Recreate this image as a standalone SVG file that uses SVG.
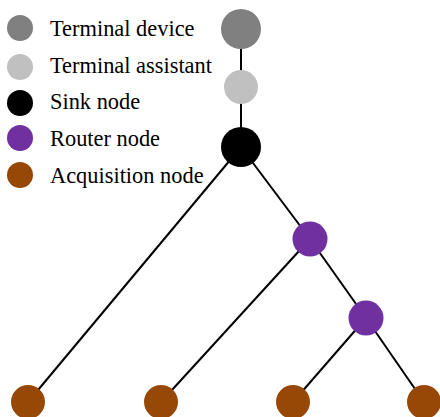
<svg xmlns="http://www.w3.org/2000/svg" width="440" height="417" viewBox="0 0 440 417">
  <style>
    .label { font-family: "Liberation Serif", "Times New Roman", serif; font-size: 22.4px; fill: #000; }
    .edge { stroke: #000; stroke-width: 2; fill: none; }
    .device { fill: #808080; }
    .assistant { fill: #c0c0c0; }
    .sink { fill: #000000; }
    .router { fill: #7030a0; }
    .acq { fill: #974806; }
  </style>
  <rect width="440" height="417" fill="#ffffff"/>

  <!-- legend -->
  <g id="legend">
    <circle class="device" cx="20" cy="28" r="13"/>
    <text class="label" x="50" y="36">Terminal device</text>
    <circle class="assistant" cx="20" cy="67" r="13"/>
    <text class="label" x="50" y="73">Terminal assistant</text>
    <circle class="sink" cx="20" cy="103" r="13"/>
    <text class="label" x="50" y="109">Sink node</text>
    <circle class="router" cx="20" cy="138" r="13"/>
    <text class="label" x="50" y="146">Router node</text>
    <circle class="acq" cx="20" cy="175" r="13"/>
    <text class="label" x="50" y="183">Acquisition node</text>
  </g>

  <!-- connectors -->
  <g id="edges">
    <line class="edge" x1="241" y1="29" x2="241" y2="147"/>
    <line class="edge" x1="241" y1="147" x2="28" y2="402"/>
    <line class="edge" x1="241" y1="147" x2="310" y2="239"/>
    <line class="edge" x1="310" y1="239" x2="161" y2="402"/>
    <line class="edge" x1="310" y1="239" x2="366" y2="318"/>
    <line class="edge" x1="366" y1="318" x2="293" y2="402"/>
    <line class="edge" x1="366" y1="318" x2="424" y2="402"/>
  </g>

  <!-- nodes -->
  <g id="terminal-device"><circle class="device" cx="241" cy="29" r="20"/></g>
  <g id="terminal-assistant"><circle class="assistant" cx="241" cy="87" r="17"/></g>
  <g id="sink-node"><circle class="sink" cx="241" cy="147" r="20"/></g>
  <g id="router-1"><circle class="router" cx="310" cy="239" r="17.5"/></g>
  <g id="router-2"><circle class="router" cx="366" cy="318" r="17.5"/></g>
  <g id="acq-1"><circle class="acq" cx="28" cy="402" r="17"/></g>
  <g id="acq-2"><circle class="acq" cx="161" cy="402" r="17"/></g>
  <g id="acq-3"><circle class="acq" cx="293" cy="402" r="17"/></g>
  <g id="acq-4"><circle class="acq" cx="424" cy="402" r="17"/></g>
</svg>
